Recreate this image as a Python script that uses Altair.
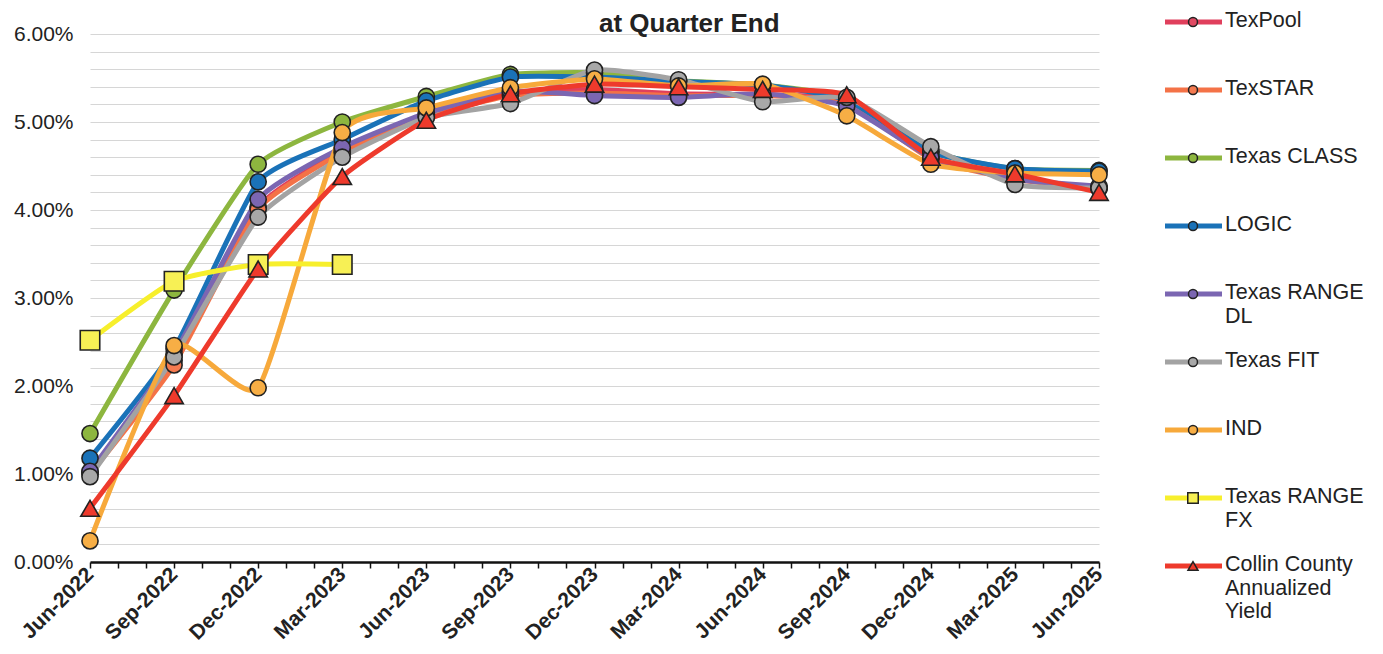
import json
import altair as alt
import pandas as pd

# ---------------- data ----------------
quarters = ["Jun-2022", "Sep-2022", "Dec-2022", "Mar-2023", "Jun-2023", "Sep-2023",
            "Dec-2023", "Mar-2024", "Jun-2024", "Sep-2024", "Dec-2024", "Mar-2025", "Jun-2025"]

series_names = ["TexPool", "TexSTAR", "Texas CLASS", "LOGIC", "Texas RANGE DL",
                "Texas FIT", "IND", "Texas RANGE FX", "Collin County Annualized Yield"]
legend_labels = ["TexPool", "TexSTAR", "Texas CLASS", "LOGIC", "Texas RANGE\nDL",
                 "Texas FIT", "IND", "Texas RANGE\nFX", "Collin County\nAnnualized\nYield"]

texpool = [1.02, 2.29, 4.03, 4.67, 5.08, 5.33, 5.37, 5.32, 5.31, 5.25, 4.60, 4.36, 4.25]
texstar = [1.00, 2.24, 4.01, 4.65, 5.06, 5.30, 5.33, 5.30, 5.30, 5.22, 4.58, 4.35, 4.24]
texas_class = [1.46, 3.09, 4.52, 5.00, 5.29, 5.54, 5.56, 5.47, 5.42, 5.27, 4.66, 4.47, 4.45]
logic = [1.18, 2.42, 4.32, 4.80, 5.24, 5.51, 5.51, 5.46, 5.42, 5.25, 4.66, 4.47, 4.44]
range_dl = [1.03, 2.36, 4.12, 4.71, 5.10, 5.35, 5.30, 5.28, 5.32, 5.18, 4.60, 4.35, 4.27]
texas_fit = [0.97, 2.33, 3.92, 4.60, 5.05, 5.21, 5.59, 5.48, 5.23, 5.28, 4.72, 4.29, 4.25]
ind = [0.24, 2.46, 1.98, 4.88, 5.16, 5.39, 5.49, 5.41, 5.43, 5.07, 4.52, 4.42, 4.40]
range_fx = [2.52, 3.19, 3.38, 3.38]
collin = [0.61, 1.89, 3.33, 4.38, 5.02, 5.32, 5.43, 5.40, 5.37, 5.31, 4.60, 4.41, 4.20]

all_values = [texpool, texstar, texas_class, logic, range_dl, texas_fit, ind, range_fx, collin]

line_colors = ["#E03F5C", "#F47247", "#8DB63F", "#1A72B8", "#7B66B2",
               "#A3A3A3", "#F7A93B", "#F7EF2C", "#EE3A2C"]
fill_colors = ["#E04A63", "#F47A50", "#8DB63F", "#1A72B8", "#7B66B2",
               "#A8A8A8", "#F7AE45", "#F7F055", "#EE3A2C"]
shapes = ["circle"] * 7 + ["square", "triangle-up"]
sizes = [260] * 7 + [380, 340]
legend_sizes = [80] * 7 + [110, 100]

month_names = ["Jan", "Feb", "Mar", "Apr", "May", "Jun", "Jul", "Aug", "Sep", "Oct", "Nov", "Dec"]
months = []
for yr in range(2022, 2026):
    for mi, mn in enumerate(month_names):
        if (yr == 2022 and mi < 5) or (yr == 2025 and mi > 5):
            continue
        months.append(f"{mn}-{yr}")

rows = []
for s, vals in zip(series_names, all_values):
    for q, v in zip(quarters, vals):
        rows.append({"series": s, "quarter": q, "value": v})
df = pd.DataFrame(rows)

FONT = "Liberation Sans"
PLOT_H = 528

x_enc = alt.X(
    "quarter:O",
    scale=alt.Scale(domain=months, type="point", padding=0),
    axis=alt.Axis(
        title=None, labelAngle=-45, labelAlign="right", labelBaseline="middle",
        labelExpr=f"indexof({json.dumps(quarters)}, datum.value) >= 0 ? datum.value : ''",
        labelFont=FONT, labelFontSize=21, labelFontWeight="bold", labelColor="#222",
        labelOverlap=False, labelPadding=3, ticks=True, tickSize=6, tickWidth=1.5,
        tickColor="#111", domainColor="#111", domainWidth=2.5, grid=False,
    ),
)
y_enc = alt.Y(
    "value:Q",
    scale=alt.Scale(domain=[0, 6], nice=False, zero=True),
    axis=alt.Axis(
        title=None, values=[round(i * 0.2, 1) for i in range(31)],
        labelExpr="datum.value % 1 == 0 ? format(datum.value, '.2f') + '%' : ''",
        labelFont=FONT, labelFontSize=21, labelColor="#222", labelPadding=17,
        ticks=False, domain=False, grid=True, gridColor="#d6d6d6", gridWidth=1.2,
    ),
)

layers = []
for i, s in enumerate(series_names):
    base = alt.Chart(df[df["series"] == s])
    layers.append(base.mark_line(color=line_colors[i], strokeWidth=5,
                                 interpolate="cardinal", tension=0.5)
                  .encode(x=x_enc, y=y_enc))
for i, s in enumerate(series_names):
    base = alt.Chart(df[df["series"] == s])
    layers.append(base.mark_point(shape=shapes[i], size=sizes[i], filled=True, opacity=1,
                                  fill=fill_colors[i], stroke="#222", strokeWidth=1.6)
                  .encode(x=x_enc, y=y_enc))

main = alt.layer(*layers).properties(width=1009, height=PLOT_H)

# ---------------- legend panel ----------------
leg_df = pd.DataFrame({
    "series": series_names,
    "label": legend_labels,
    "lcolor": line_colors,
    "fcolor": fill_colors,
    "shape": shapes,
    "size": legend_sizes,
})
ly = alt.Y("series:N", scale=alt.Scale(type="point", domain=series_names,
                                       range=[-12, 532], padding=0), axis=None)
leg_base = alt.Chart(leg_df)
leg_rule = leg_base.mark_rule(strokeWidth=5).encode(
    x=alt.value(0), x2=alt.value(57), y=ly,
    color=alt.Color("lcolor:N", scale=None),
)
leg_pt = leg_base.mark_point(filled=True, opacity=1, stroke="#222", strokeWidth=1.5).encode(
    x=alt.value(28), y=ly,
    fill=alt.Fill("fcolor:N", scale=None),
    shape=alt.Shape("shape:N", scale=None),
    size=alt.Size("size:Q", scale=None),
)
leg_txt = leg_base.mark_text(align="left", baseline="top", dy=-12, lineBreak="\n",
                             lineHeight=23.5, font=FONT, fontSize=21.5, color="#222").encode(
    x=alt.value(60), y=ly, text="label:N",
)
legend = alt.layer(leg_rule, leg_pt, leg_txt).properties(width=200, height=PLOT_H)

chart = alt.hconcat(main, legend, spacing=50).properties(
    title=alt.TitleParams("at Quarter End", fontSize=26, fontWeight="bold", font=FONT,
                          color="#222", anchor="middle", offset=-27),
    padding={"left": 5, "top": 2, "right": 5, "bottom": 2},
).configure_view(stroke=None)

chart.save("out.html", embed_options={"renderer": "svg", "actions": False})
